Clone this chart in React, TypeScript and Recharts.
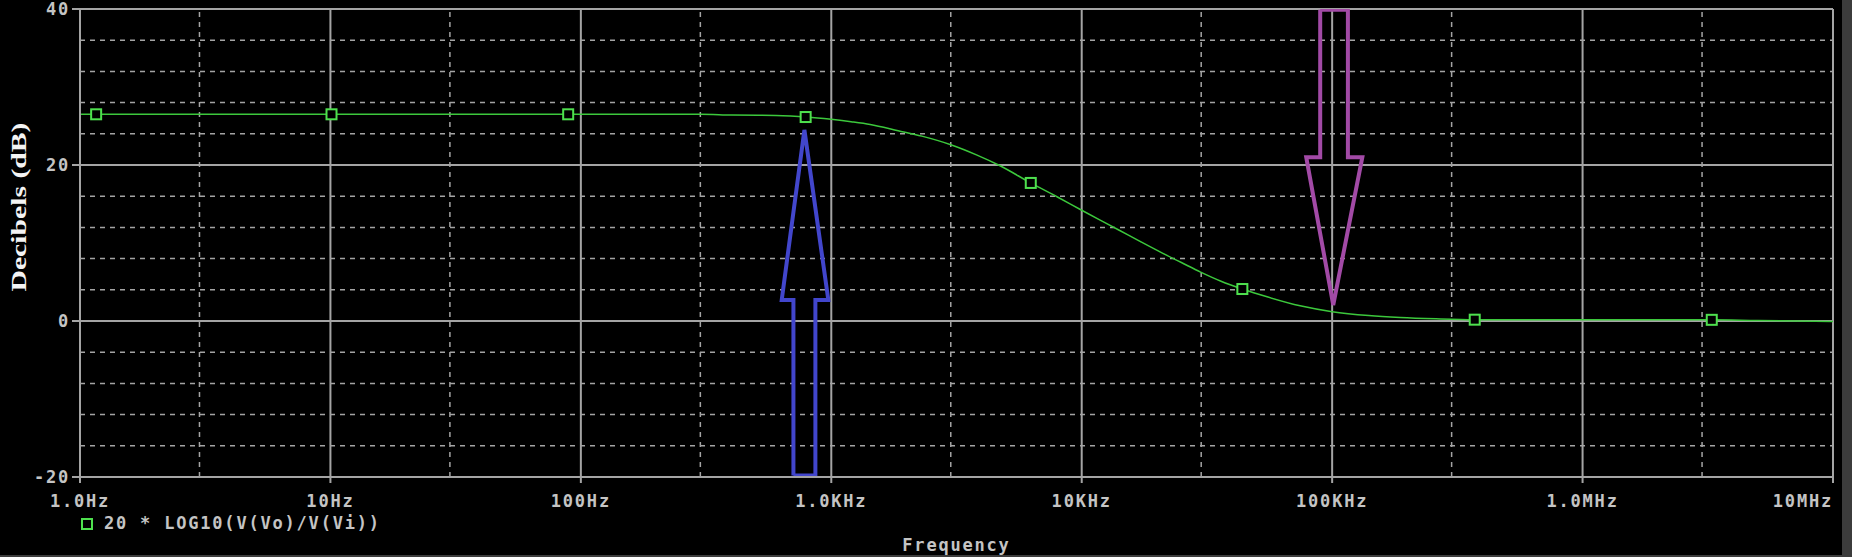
import React from "react";
import {
  ComposedChart,
  Line,
  Scatter,
  XAxis,
  YAxis,
  ReferenceLine,
  Legend,
} from "recharts";

// ── Data ──────────────────────────────────────────────────────────────────────

const decadeTicks = [1, 10, 100, 1e3, 1e4, 1e5, 1e6, 1e7];
const decadeLabels = ["1.0Hz", "10Hz", "100Hz", "1.0KHz", "10KHz", "100KHz", "1.0MHz", "10MHz"];
const minorFreqs = [3, 30, 300, 3e3, 3e4, 3e5, 3e6];

const dbTicks = [-20, 0, 20, 40];
const dbMinor = [-16, -12, -8, -4, 4, 8, 12, 16, 24, 28, 32, 36];

// 20*LOG10(V(Vo)/V(Vi))
const traceFreq = [
  1, 100, 300, 400, 600, 800, 1000, 1200, 1430, 1850, 2300, 3000, 3800, 4720,
  6260, 8000, 10000, 11900, 14000, 17100, 21000, 25000, 29700, 36000, 43800,
  55000, 74500, 100000, 140000, 187000, 260000, 371000, 1e6, 3.28e6, 5e6, 1e7,
];
const traceDb = [
  26.5, 26.5, 26.5, 26.4, 26.35, 26.15, 25.85, 25.55, 25.2, 24.4, 23.7, 22.6, 21.3, 19.9,
  17.7, 15.9, 14.2, 12.9, 11.7, 10.2, 8.7, 7.5, 6.3, 5.1, 4.1,
  3.1, 1.95, 1.2, 0.7, 0.45, 0.28, 0.17, 0.15, 0.15, 0.05, -0.05,
];

// square markers on the trace
const markerFreq = [1.16, 10.1, 89, 790, 6260, 43800, 371000, 3280000];
const markerDb = [26.5, 26.5, 26.5, 26.15, 17.7, 4.1, 0.17, 0.15];

// annotation arrows (outline points, Hz / dB)
const blueArrowFreq = [706, 706, 634, 781, 973, 864, 864, 706];
const blueArrowDb = [-19.8, 2.7, 2.7, 24.5, 2.7, 2.7, -19.8, -19.8];
const purpleArrowFreq = [89600, 89600, 78800, 101000, 132000, 115600, 115600, 89600];
const purpleArrowDb = [39.9, 21, 21, 2.05, 21, 21, 39.9, 39.9];

const legendLabel = "20 * LOG10(V(Vo)/V(Vi))";

// ── Styles ────────────────────────────────────────────────────────────────────

const GRID = "#a4a4a4";
const TEXT = "#c4c4c4";
const GREEN = "#3cc83c";
const MARK = "#4ee04e";
const BLUE = "#4246cc";
const PURPLE = "#a24aa6";
const MONO = "'DejaVu Sans Mono', monospace";
const monoStyle = { letterSpacing: "1.8px" };

const zip = (f: number[], d: number[]) => f.map((v, i) => ({ f: v, db: d[i] }));

const trace = zip(traceFreq, traceDb);
const markers = zip(markerFreq, markerDb);
const blueArrow = zip(blueArrowFreq, blueArrowDb);
const purpleArrow = zip(purpleArrowFreq, purpleArrowDb);

// ── Pieces ────────────────────────────────────────────────────────────────────

function FreqTick({ x, y, payload, index }: any) {
  const last = index === decadeTicks.length - 1;
  const label = decadeLabels[decadeTicks.indexOf(payload.value)];
  return (
    <text
      x={x}
      y={y}
      dy={22}
      textAnchor={last ? "end" : "middle"}
      fill={TEXT}
      fontFamily={MONO}
      fontWeight="bold"
      fontSize={17}
      style={monoStyle}
    >
      {label}
    </text>
  );
}

function DbTick({ x, y, payload }: any) {
  return (
    <text
      x={x}
      y={y}
      dy={6}
      textAnchor="end"
      fill={TEXT}
      fontFamily={MONO}
      fontWeight="bold"
      fontSize={17}
      style={monoStyle}
    >
      {payload.value}
    </text>
  );
}

function YTitle({ viewBox }: any) {
  const cx = 19;
  const cy = viewBox.y + viewBox.height / 2 - 36;
  return (
    <text
      x={cx}
      y={cy}
      transform={`rotate(-90 ${cx} ${cy})`}
      textAnchor="middle"
      dominantBaseline="central"
      fill="#f4f4f4"
      fontFamily="'Liberation Serif', serif"
      fontWeight="bold"
      fontSize={21}
      textLength={169}
      lengthAdjust="spacingAndGlyphs"
    >
      Decibels (dB)
    </text>
  );
}

function XTitle({ viewBox }: any) {
  return (
    <text
      x={viewBox.x + viewBox.width / 2}
      y={viewBox.y + viewBox.height - 4}
      textAnchor="middle"
      fill={TEXT}
      fontFamily={MONO}
      fontWeight="bold"
      fontSize={17}
      style={monoStyle}
    >
      Frequency
    </text>
  );
}

function SquareMarker({ cx, cy }: any) {
  return <rect x={cx - 5} y={cy - 5} width={10} height={10} fill="#000" stroke={MARK} strokeWidth={2} />;
}

function TraceLegend() {
  return (
    <svg width={340} height={22}>
      <rect x={2} y={7} width={10} height={10} fill="none" stroke={MARK} strokeWidth={2} />
      <text x={24} y={17} fill={TEXT} fontFamily={MONO} fontWeight="bold" fontSize={17} style={monoStyle}>
        {legendLabel}
      </text>
    </svg>
  );
}

// ── Chart ─────────────────────────────────────────────────────────────────────

export default function App() {
  return (
    <div style={{ position: "absolute", left: 0, top: 0, width: 1852, height: 557, background: "#3c3c3c" }}>
      <div style={{ width: 1842, height: 555, background: "#000" }}>
        <ComposedChart width={1842} height={555} margin={{ top: 9, right: 9, bottom: 0, left: 0 }}>
          <XAxis
            dataKey="f"
            type="number"
            scale="log"
            domain={[1, 1e7]}
            ticks={decadeTicks}
            interval={0}
            allowDataOverflow
            height={78}
            axisLine={{ stroke: GRID, strokeWidth: 2 }}
            tickLine={{ stroke: GRID, strokeWidth: 2 }}
            tickSize={6}
            tickMargin={2}
            tick={<FreqTick />}
            label={{ content: (p: any) => <XTitle {...p} /> }}
          />
          <YAxis
            type="number"
            domain={[-20, 40]}
            ticks={dbTicks}
            interval={0}
            allowDataOverflow
            width={80}
            axisLine={{ stroke: GRID, strokeWidth: 2 }}
            tickLine={{ stroke: GRID, strokeWidth: 2 }}
            tickSize={8}
            tickMargin={2}
            tick={<DbTick />}
            label={{ content: (p: any) => <YTitle {...p} /> }}
          />

          {minorFreqs.map((f) => (
            <ReferenceLine key={`vm${f}`} x={f} stroke={GRID} strokeWidth={1.5} strokeDasharray="5 5" />
          ))}
          {dbMinor.map((d) => (
            <ReferenceLine key={`hm${d}`} y={d} stroke={GRID} strokeWidth={1.5} strokeDasharray="5 5" />
          ))}
          {decadeTicks.map((f) => (
            <ReferenceLine key={`v${f}`} x={f} stroke={GRID} strokeWidth={2} />
          ))}
          {dbTicks.map((d) => (
            <ReferenceLine key={`h${d}`} y={d} stroke={GRID} strokeWidth={2} />
          ))}

          <Line
            data={trace}
            dataKey="db"
            type="monotone"
            stroke={GREEN}
            strokeWidth={1.5}
            dot={false}
            activeDot={false}
            isAnimationActive={false}
            legendType="none"
          />
          <Scatter
            data={markers}
            dataKey="db"
            shape={<SquareMarker />}
            isAnimationActive={false}
            legendType="none"
          />

          <Line
            data={blueArrow}
            dataKey="db"
            type="linear"
            stroke={BLUE}
            strokeWidth={4}
            strokeLinejoin="miter"
            dot={false}
            activeDot={false}
            isAnimationActive={false}
            legendType="none"
          />
          <Line
            data={purpleArrow}
            dataKey="db"
            type="linear"
            stroke={PURPLE}
            strokeWidth={4}
            strokeLinejoin="miter"
            dot={false}
            activeDot={false}
            isAnimationActive={false}
            legendType="none"
          />

          <Legend
            layout="horizontal"
            verticalAlign="middle"
            align="center"
            wrapperStyle={{ left: 80, top: 512, width: 340, height: 22 }}
            content={() => <TraceLegend />}
          />
        </ComposedChart>
      </div>
    </div>
  );
}
